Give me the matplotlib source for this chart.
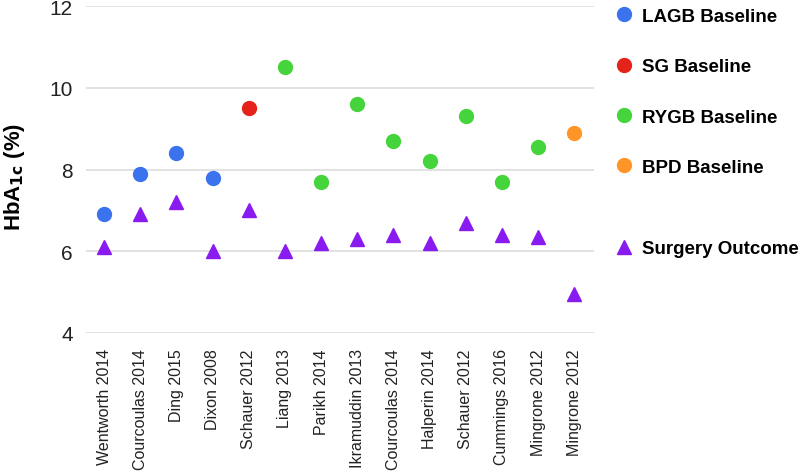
import numpy as np
import matplotlib.pyplot as plt
from matplotlib.lines import Line2D

plt.rcParams['font.family'] = ['Liberation Sans', 'DejaVu Sans']

studies = ['Wentworth 2014', 'Courcoulas 2014', 'Ding 2015', 'Dixon 2008',
           'Schauer 2012', 'Liang 2013', 'Parikh 2014', 'Ikramuddin 2013',
           'Courcoulas 2014', 'Halperin 2014', 'Schauer 2012', 'Cummings 2016',
           'Mingrone 2012', 'Mingrone 2012']
surgery = ['LAGB', 'LAGB', 'LAGB', 'LAGB', 'SG', 'RYGB', 'RYGB', 'RYGB',
           'RYGB', 'RYGB', 'RYGB', 'RYGB', 'RYGB', 'BPD']
baseline = [6.9, 7.9, 8.4, 7.8, 9.5, 10.5, 7.7, 9.6, 8.7, 8.2, 9.3, 7.7, 8.55, 8.9]
outcome = [6.1, 6.9, 7.2, 6.0, 7.0, 6.0, 6.2, 6.3, 6.4, 6.2, 6.7, 6.4, 6.35, 4.95]

colors = {'LAGB': '#3b72ee', 'SG': '#e5231b', 'RYGB': '#45d43b', 'BPD': '#ff9527'}
tri_color = '#8a1bf0'

fig = plt.figure(figsize=(8.07, 4.77), dpi=100)
ax = fig.add_axes([0.1066, 0.30, 0.630, 0.685])

x = np.arange(len(studies))
for grp, col in colors.items():
    idx = [i for i, s in enumerate(surgery) if s == grp]
    ax.plot(x[idx], np.array(baseline)[idx], 'o', color=col, markersize=10,
            linestyle='none', zorder=3)
ax.plot(x, outcome, '^', color=tri_color, markersize=10, linestyle='none', zorder=3)

ax.set_xlim(-0.5, 13.56)
ax.set_ylim(4, 12)
ax.set_yticks([4, 6, 8, 10, 12])
ax.set_xticks(x)
ax.set_xticklabels(studies, rotation=90, fontsize=11.5, color='#222222')
ax.tick_params(axis='y', labelsize=15, colors='#222222', length=0, pad=9.5)
ax.tick_params(axis='x', length=0, pad=11)
ax.grid(axis='y', color='#dddddd', linewidth=1.2)
ax.set_axisbelow(True)
for sp in ax.spines.values():
    sp.set_visible(False)
ax.set_ylabel(r'HbA$_{\mathbf{1c}}$ (%)', fontsize=16, fontweight='bold')
ax.yaxis.set_label_coords(-0.117, 0.48)

handles = [Line2D([], [], marker='o', color=c, linestyle='none', markersize=10)
           for c in colors.values()]
labels = [k + ' Baseline' for k in colors]
leg1 = fig.legend(handles, labels, loc='upper left', bbox_to_anchor=(0.739, 1.017),
                  frameon=False, prop={'weight': 'bold', 'size': 13.5},
                  labelspacing=1.77, handletextpad=0.33, handlelength=1.2)
leg2 = fig.legend([Line2D([], [], marker='^', color=tri_color, linestyle='none', markersize=10)],
                  ['Surgery Outcome'], loc='upper left', bbox_to_anchor=(0.739, 0.530),
                  frameon=False, prop={'weight': 'bold', 'size': 13.5},
                  handletextpad=0.33, handlelength=1.2)

fig.savefig('out.png', dpi=100)
